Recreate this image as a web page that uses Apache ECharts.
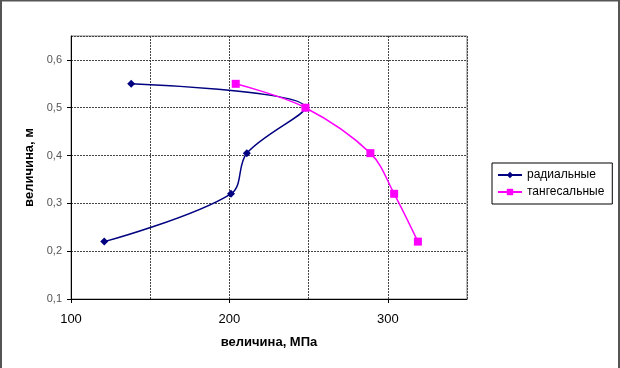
<!DOCTYPE html>
<html>
<head>
<meta charset="utf-8">
<script src="https://cdn.jsdelivr.net/npm/echarts@6/dist/echarts.min.js"></script>
<style>
html,body{margin:0;padding:0;background:#fff;}
#chart{width:620px;height:368px;}
</style>
</head>
<body>
<div id="chart"></div>
<script>
const seriesNames = ['радиальные', 'тангесальные'];
const radialX = [138, 248, 211, 201, 121];
const radialY = [0.55, 0.50, 0.405, 0.32, 0.22];
const tangX = [204, 248, 289, 304, 319];
const tangY = [0.55, 0.50, 0.405, 0.32, 0.22];
const xTickLabels = [100, 200, 300];
const yTickLabels = [0.1, 0.2, 0.3, 0.4, 0.5, 0.6];

const zip = (xs, ys) => xs.map((x, i) => [x, ys[i]]);
const font = 'Liberation Sans, Arial, sans-serif';

const chart = echarts.init(document.getElementById('chart'), null, {renderer: 'canvas'});
chart.setOption({
  animation: false,
  backgroundColor: '#fff',
  graphic: [{
    type: 'polyline',
    shape: {points: [[1, 368], [1, 0.5], [619, 0.5], [619, 368]]},
    style: {stroke: '#555', lineWidth: 2, fill: null},
    silent: true
  }],
  grid: {
    left: 71, right: 153, top: 36, bottom: 69,
    show: true, borderColor: '#808080', borderWidth: 1, backgroundColor: 'transparent'
  },
  legend: {
    orient: 'vertical',
    left: 492, top: 163,
    padding: [6, 8, 6, 5],
    itemWidth: 24, itemHeight: 8, itemGap: 5,
    borderColor: '#000', borderWidth: 1,
    textStyle: {fontFamily: font, fontSize: 12, color: '#000'},
    data: seriesNames
  },
  xAxis: [{
    type: 'value', min: 100, max: 350, interval: 50,
    name: 'величина, МПа', nameLocation: 'middle', nameGap: 37,
    nameTextStyle: {fontFamily: font, fontSize: 13, fontWeight: 'bold', color: '#000'},
    axisLine: {show: true, lineStyle: {color: '#000', width: 1}},
    axisTick: {show: false},
    axisLabel: {show: false},
    splitLine: {show: true, lineStyle: {color: '#444', type: [2, 1], width: 1}}
  }, {
    type: 'value', min: 100, max: 350, interval: 100, position: 'bottom',
    axisLine: {show: false},
    axisTick: {show: true, length: 4, inside: false, lineStyle: {color: '#000'}},
    axisLabel: {show: true, showMaxLabel: false, margin: 14, fontFamily: font, fontSize: 13, color: '#000',
      formatter: v => xTickLabels.includes(v) ? String(v) : ''},
    splitLine: {show: false}
  }],
  yAxis: {
    type: 'value', min: 0.1, max: 0.65, interval: 0.1,
    name: 'величина, м', nameLocation: 'middle', nameGap: 32, nameRotate: 90,
    nameTextStyle: {fontFamily: font, fontSize: 13, fontWeight: 'bold', color: '#000'},
    axisLine: {show: true, lineStyle: {color: '#000', width: 1}},
    axisTick: {show: true, length: 4, lineStyle: {color: '#000'}},
    axisLabel: {showMaxLabel: false, margin: 9, fontFamily: font, fontSize: 11, color: '#555',
      formatter: v => {
        const r = Math.round(v * 10) / 10;
        return yTickLabels.includes(r) && Math.abs(r - v) < 1e-6 ? r.toFixed(1).replace('.', ',') : '';
      }},
    splitLine: {show: true, lineStyle: {color: '#444', type: [2, 1], width: 1}}
  },
  series: [{
    name: seriesNames[0], type: 'line', xAxisIndex: 0,
    data: zip(radialX, radialY),
    smooth: 0.35,
    symbol: 'diamond', symbolSize: 8,
    lineStyle: {color: '#000080', width: 1.5},
    itemStyle: {color: '#000080'}
  }, {
    name: seriesNames[1], type: 'line', xAxisIndex: 0,
    data: zip(tangX, tangY),
    smooth: 0.35,
    symbol: 'rect', symbolSize: 8,
    lineStyle: {color: '#FF00FF', width: 1.5},
    itemStyle: {color: '#FF00FF'}
  }]
});
</script>
</body>
</html>
